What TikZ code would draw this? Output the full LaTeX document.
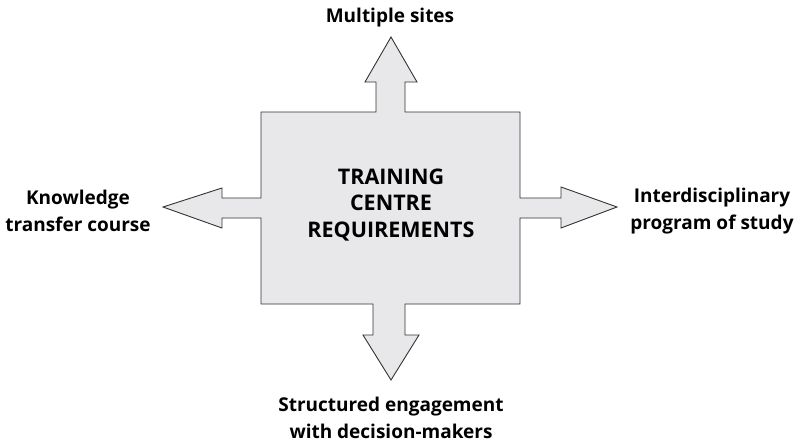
\documentclass[tikz,border=0pt]{standalone}
\usepackage{fontspec}
\setmainfont{Open Sans}
\begin{document}
\begin{tikzpicture}[x=1pt,y=-1pt,
  hub/.style={draw=black!80, line width=0.9pt, fill=panel, line join=miter},
  label/.style={font=\bfseries\fontsize{19}{26.5}\selectfont, align=center, inner sep=0pt, anchor=base},
  title/.style={label, font=\bfseries\fontsize{21.5}{26.5}\selectfont},
]
\definecolor{panel}{HTML}{E8E8EA}
\useasboundingbox (0,0) rectangle (796,442);

% central box with four outward arrows, drawn as one outline
\draw[hub] (261,112) -- (376,112) -- (376,82) -- (365,82) -- (391,37) -- (417,82)
  -- (405,82) -- (405,112) -- (520,112) -- (520,198) -- (561,198) -- (561,187)
  -- (617,207) -- (561,228) -- (561,218) -- (520,218) -- (520,304) -- (405,304)
  -- (405,335) -- (419,335) -- (391,380) -- (363,335) -- (373,335) -- (373,304)
  -- (261,304) -- (261,218) -- (222,218) -- (222,228) -- (163,207) -- (222,188)
  -- (222,198) -- (261,198) -- cycle;

% labels are placed by the baseline of their last line
\node[title] (centre) at (391,237) {TRAINING\\CENTRE\\REQUIREMENTS};
\node[label] (top) at (390,22) {Multiple sites};
\node[label] (left) at (78,231) {Knowledge\\transfer course};
\node[label] (right) at (712,229) {Interdisciplinary\\program of study};
\node[label] (bottom) at (391,438) {Structured engagement\\with decision-makers};
\end{tikzpicture}
\end{document}
